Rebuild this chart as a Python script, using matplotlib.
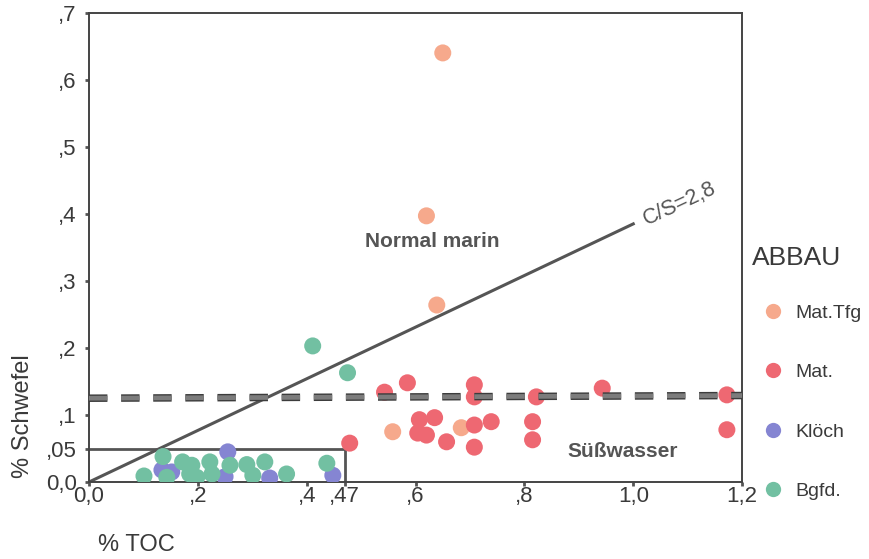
import numpy as np
import matplotlib.pyplot as plt
import matplotlib.patheffects as pe
from matplotlib.lines import Line2D

plt.rcParams['font.family'] = ['Liberation Sans', 'DejaVu Sans']

# Daten (% TOC, % Schwefel)
toc_tfg = [0.650, 0.620, 0.639, 0.558, 0.684]
s_tfg = [0.640, 0.397, 0.264, 0.075, 0.081]

toc_mat = [0.479, 0.543, 0.585, 0.708, 0.708, 0.822, 0.943, 1.172, 1.172,
           0.607, 0.635, 0.604, 0.620, 0.708, 0.739, 0.657, 0.708, 0.815, 0.815]
s_mat = [0.058, 0.134, 0.148, 0.145, 0.127, 0.127, 0.140, 0.130, 0.078,
         0.093, 0.096, 0.073, 0.070, 0.085, 0.090, 0.060, 0.052, 0.090, 0.063]

toc_kloech = [0.134, 0.152, 0.255, 0.250, 0.332, 0.448]
s_kloech = [0.018, 0.015, 0.045, 0.008, 0.006, 0.010]

toc_bgfd = [0.101, 0.136, 0.143, 0.172, 0.189, 0.185, 0.198, 0.222, 0.226,
            0.259, 0.290, 0.301, 0.323, 0.363, 0.437, 0.411, 0.475]
s_bgfd = [0.009, 0.038, 0.007, 0.030, 0.025, 0.012, 0.007, 0.030, 0.012,
          0.025, 0.026, 0.010, 0.030, 0.012, 0.028, 0.203, 0.163]

# Hilfslinien
cs_x = [0.0, 1.0]
cs_y = [0.0, 0.385]
grenze_x = [0.0, 1.2]
grenze_y = [0.125, 0.129]
box_x = [0.0, 0.47, 0.47]
box_y = [0.05, 0.05, 0.0]

x_ticks = [0.0, 0.2, 0.4, 0.47, 0.6, 0.8, 1.0, 1.2]
x_labels = ['0,0', ',2', ',4', ',47', ',6', ',8', '1,0', '1,2']
y_ticks = [0.0, 0.05, 0.1, 0.2, 0.3, 0.4, 0.5, 0.6, 0.7]
y_labels = ['0,0', ',05', ',1', ',2', ',3', ',4', ',5', ',6', ',7']

farben = {'Mat.Tfg': '#f6a98c', 'Mat.': '#ee6872', 'Klöch': '#8585d2', 'Bgfd.': '#72c0a2'}
grau = '#555555'
text_grau = '#3a3a3a'

fig = plt.figure(figsize=(8.7, 5.59), dpi=100)
ax = fig.add_axes([0.1023, 0.1377, 0.7507, 0.8396])

ax.plot(cs_x, cs_y, color=grau, lw=2.2, zorder=2)
ax.plot(grenze_x, grenze_y, color='#7c7c7c', lw=3.4, dashes=(3.9, 2.9), zorder=4,
        path_effects=[pe.Stroke(linewidth=5.4, foreground='#3c3c3c'), pe.Normal()])
ax.plot(box_x, box_y, color=grau, lw=2.0, zorder=2)

ms = 150
ax.scatter(toc_tfg, s_tfg, s=ms, color=farben['Mat.Tfg'], edgecolors='none', zorder=3)
ax.scatter(toc_mat, s_mat, s=ms, color=farben['Mat.'], edgecolors='none', zorder=3)
ax.scatter(toc_kloech, s_kloech, s=ms, color=farben['Klöch'], edgecolors='none', zorder=3)
ax.scatter(toc_bgfd, s_bgfd, s=ms, color=farben['Bgfd.'], edgecolors='none', zorder=3)

ax.text(0.63, 0.358, 'Normal marin', fontsize=15, fontweight='bold', color=grau,
        ha='center', va='center')
ax.text(0.98, 0.045, 'Süßwasser', fontsize=15, fontweight='bold', color=grau,
        ha='center', va='center')
ax.text(1.085, 0.415, 'C/S=2,8', fontsize=15.5, color=grau, rotation=25,
        ha='center', va='center')

ax.set_xlim(0, 1.2)
ax.set_ylim(0, 0.7)
ax.set_xticks(x_ticks)
ax.set_xticklabels(x_labels)
ax.set_yticks(y_ticks)
ax.set_yticklabels(y_labels)
ax.tick_params(colors=grau, labelcolor=text_grau, labelsize=16, length=3, width=2)
ax.tick_params(axis='x', pad=0)
ax.tick_params(axis='y', pad=6)
for sp in ax.spines.values():
    sp.set_color('#444444')
    sp.set_linewidth(1.4)

fig.text(0.026, 0.255, '% Schwefel', rotation=90, fontsize=17, color=text_grau,
         ha='center', va='center')
fig.text(0.113, 0.025, '% TOC', fontsize=17, color=text_grau, ha='left', va='center')

fig.text(0.864, 0.538, 'ABBAU', fontsize=19, color=text_grau, ha='left', va='center')
handles = [Line2D([], [], ls='none', marker='o', markersize=11, markeredgecolor='none',
                  markerfacecolor=farben[k], label=k) for k in farben]
leg = fig.legend(handles=handles, loc='upper left', bbox_to_anchor=(0.8774, 0.456),
                 frameon=False, fontsize=14, labelspacing=2.15, handletextpad=0.63,
                 handlelength=1.0, borderpad=0, borderaxespad=0)
for t in leg.get_texts():
    t.set_color(text_grau)

fig.savefig('out.png', dpi=100)
